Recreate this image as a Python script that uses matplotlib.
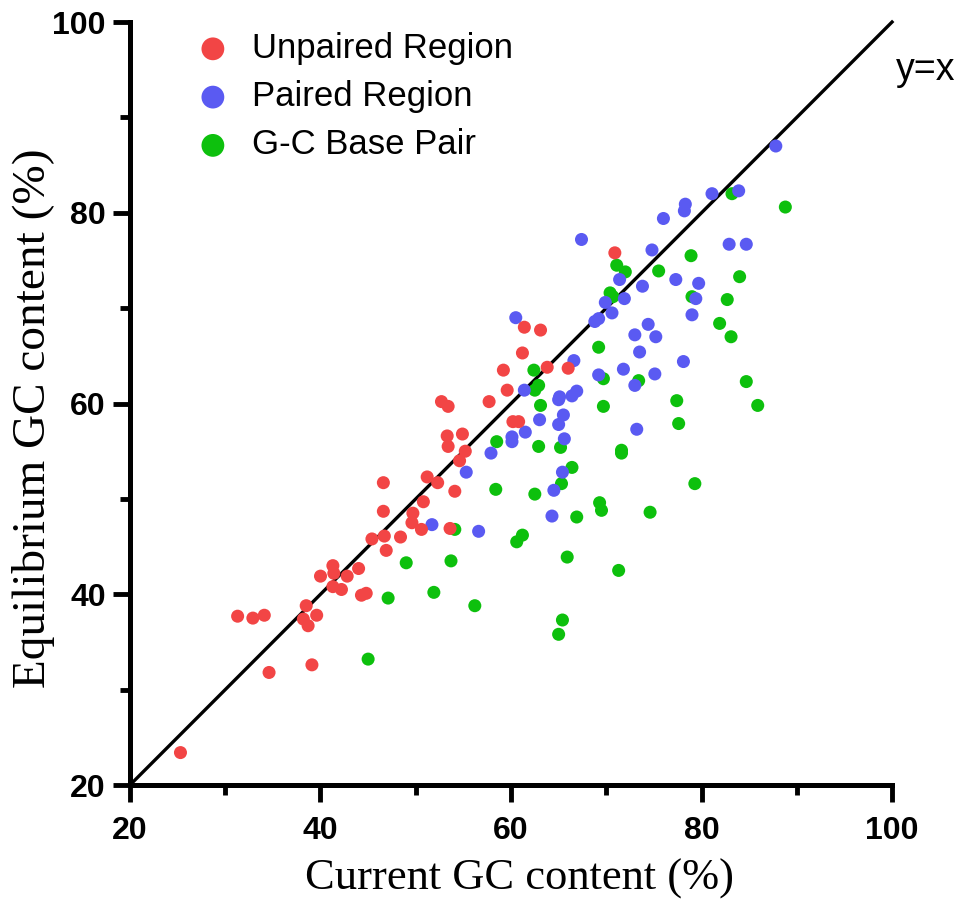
import numpy as np
import matplotlib
matplotlib.use("Agg")
import matplotlib.pyplot as plt
from matplotlib.ticker import MultipleLocator

## styling
matplotlib.rcParams["font.family"] = ["Liberation Sans", "DejaVu Sans"]
matplotlib.rcParams["axes.linewidth"] = 3.6
matplotlib.rcParams["xtick.major.width"] = 3.5
matplotlib.rcParams["ytick.major.width"] = 3.5
matplotlib.rcParams["xtick.minor.width"] = 3.5
matplotlib.rcParams["ytick.minor.width"] = 3.5
matplotlib.rcParams["xtick.major.size"] = 12.5
matplotlib.rcParams["ytick.major.size"] = 12.5
matplotlib.rcParams["xtick.minor.size"] = 7.5
matplotlib.rcParams["ytick.minor.size"] = 7.5

# (current GC %, equilibrium GC %)
unpaired_x = [25.3, 31.3, 32.9, 34.1, 34.6, 39.1, 38.5, 38.2, 39.6, 38.7,
              40.0, 41.3, 41.4, 42.8, 44.0, 41.3, 42.2, 44.3, 44.8, 45.4,
              46.7, 46.9, 48.4, 46.6, 46.6, 49.7, 49.6, 50.6, 50.8, 51.2,
              52.3, 53.6, 54.1, 54.6, 55.2, 53.4, 53.3, 54.9, 52.7, 53.4,
              57.7, 60.2, 60.8, 59.6, 59.2, 61.2, 61.4, 63.1, 63.8, 66.0,
              70.9]
unpaired_y = [23.4, 37.7, 37.5, 37.8, 31.8, 32.6, 38.8, 37.4, 37.8, 36.7,
              41.9, 43.0, 42.2, 41.9, 42.7, 40.8, 40.5, 39.9, 40.1, 45.8,
              46.1, 44.6, 46.0, 51.7, 48.7, 48.5, 47.5, 46.8, 49.7, 52.3,
              51.7, 46.9, 50.8, 54.0, 55.0, 55.5, 56.6, 56.8, 60.2, 59.7,
              60.2, 58.1, 58.1, 61.4, 63.5, 65.3, 68.0, 67.7, 63.8, 63.7,
              75.8]

paired_x = [51.7, 56.6, 55.3, 57.9, 60.1, 60.1, 61.5, 63.0, 65.0, 65.5,
            65.6, 65.0, 65.1, 66.4, 66.9, 61.4, 60.5, 66.6, 69.2, 71.8,
            75.1, 73.0, 73.2, 65.4, 64.5, 64.3, 78.1, 73.5, 73.0, 75.2,
            74.4, 79.0, 68.8, 69.2, 70.6, 69.9, 71.9, 79.4, 71.4, 73.8,
            77.3, 79.7, 74.8, 82.9, 84.7, 67.4, 76.0, 78.2, 78.3, 81.1,
            83.9, 87.8]
paired_y = [47.3, 46.6, 52.8, 54.8, 56.5, 56.0, 57.0, 58.3, 57.8, 58.8,
            56.3, 60.4, 60.7, 60.8, 61.3, 61.4, 69.0, 64.5, 63.0, 63.6,
            63.1, 61.9, 57.3, 52.8, 50.9, 48.2, 64.4, 65.4, 67.2, 67.0,
            68.3, 69.3, 68.6, 68.9, 69.5, 70.6, 71.0, 71.0, 73.0, 72.3,
            73.0, 72.6, 76.1, 76.7, 76.7, 77.2, 79.4, 80.2, 80.9, 82.0,
            82.3, 87.0]

gc_x = [45.0, 47.1, 49.0, 51.9, 53.7, 56.2, 54.1, 58.5, 58.4, 60.6,
        61.2, 62.5, 62.9, 63.1, 62.9, 62.5, 62.4, 65.2, 65.3, 66.4,
        65.9, 65.4, 65.0, 66.9, 69.3, 69.5, 71.3, 71.6, 71.6, 69.7,
        69.7, 69.2, 74.6, 79.3, 77.4, 77.6, 73.4, 84.7, 85.9, 81.9,
        83.1, 79.0, 82.7, 84.0, 78.9, 75.5, 71.1, 72.0, 70.4, 70.7,
        83.2, 88.8]
gc_y = [33.2, 39.6, 43.3, 40.2, 43.5, 38.8, 46.8, 56.0, 51.0, 45.5,
        46.2, 50.5, 55.5, 59.8, 61.9, 61.4, 63.5, 55.4, 51.6, 53.3,
        43.9, 37.3, 35.8, 48.1, 49.6, 48.8, 42.5, 55.1, 54.8, 59.7,
        62.6, 65.9, 48.6, 51.6, 60.3, 57.9, 62.4, 62.3, 59.8, 68.4,
        67.0, 71.2, 70.9, 73.3, 75.5, 73.9, 74.5, 73.8, 71.6, 71.2,
        82.0, 80.6]

fig = plt.figure(figsize=(9.6, 8.99), dpi=100)
ax = fig.add_axes([0.1354, 0.1268, 0.7938, 0.8487])

ax.plot([20, 100], [20, 100], color="black", lw=2.4, zorder=1, clip_on=False)
s_gc = ax.scatter(gc_x, gc_y, s=88, color="#0DC00D", edgecolors="none", zorder=2)
s_pr = ax.scatter(paired_x, paired_y, s=88, color="#5A5AF2", edgecolors="none", zorder=3)
s_up = ax.scatter(unpaired_x, unpaired_y, s=88, color="#F24545", edgecolors="none", zorder=4)

ax.set_xlim(20, 100)
ax.set_ylim(20, 100)
ax.xaxis.set_major_locator(MultipleLocator(20))
ax.yaxis.set_major_locator(MultipleLocator(20))
ax.xaxis.set_minor_locator(MultipleLocator(10))
ax.yaxis.set_minor_locator(MultipleLocator(10))
ax.spines["top"].set_visible(False)
ax.spines["right"].set_visible(False)
ax.tick_params(which="both", direction="out")
ax.tick_params(axis="x", which="major", pad=10)
ax.tick_params(axis="y", which="major", pad=5)
for lab in ax.get_xticklabels() + ax.get_yticklabels():
    lab.set_fontsize(23)
    lab.set_fontweight("bold")

ax.set_xlabel("Current GC content (%)", family="Liberation Serif", fontsize=32, labelpad=9)
ax.xaxis.label.set_x(0.5105)
ax.set_ylabel("Equilibrium GC content (%)", family="Liberation Serif", fontsize=34)
ax.yaxis.set_label_coords(-0.098, 0.481)

ax.text(100.4, 95.0, "y=x", fontsize=27, ha="left", va="center", clip_on=False)

ax.legend([s_up, s_pr, s_gc], ["Unpaired Region", "Paired Region", "G-C Base Pair"],
          loc="upper left", bbox_to_anchor=(0.086, 0.987), frameon=False,
          fontsize=25, markerscale=1.75, handlelength=1.0, handletextpad=0.62,
          labelspacing=0.44, borderpad=0, borderaxespad=0)

fig.savefig("out.png", dpi=100)
